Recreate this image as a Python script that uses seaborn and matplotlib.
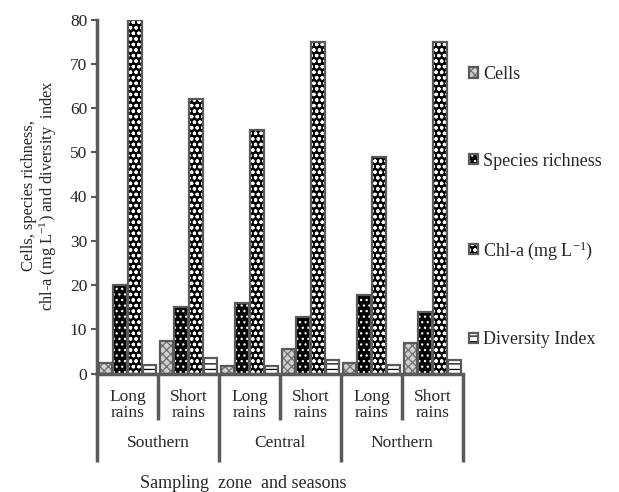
import matplotlib
matplotlib.use("Agg")
import matplotlib.pyplot as plt
import seaborn as sns
import pandas as pd
from matplotlib.patches import Rectangle, Patch
from matplotlib.legend_handler import HandlerTuple

# ---------------- data ----------------
zones = ["Southern", "Central", "Northern"]
seasons = ["Long\nrains", "Short\nrains"]
series = ["Cells", "Species richness", "Chl-a (mg L$^{-1}$)", "Diversity Index"]
cells = [2.4, 7.4, 1.8, 5.5, 2.4, 6.8]
species_richness = [20, 15, 16, 12.8, 17.7, 13.8]
chl_a = [80, 62, 55, 75, 49, 75]
diversity_index = [2.0, 3.6, 1.8, 3.0, 2.0, 3.0]
y_ticks = [0, 10, 20, 30, 40, 50, 60, 70, 80]

categories = [f"{z}|{s}" for z in zones for s in seasons]
values = {series[0]: cells, series[1]: species_richness,
          series[2]: chl_a, series[3]: diversity_index}
rows = []
for name in series:
    for cat, v in zip(categories, values[name]):
        rows.append({"cat": cat, "series": name, "value": v})
df = pd.DataFrame(rows)

# ---------------- style ----------------
sns.set_theme(style="white")
plt.rcParams["font.family"] = ["Liberation Serif", "DejaVu Serif"]
plt.rcParams["mathtext.fontset"] = "custom"
plt.rcParams["mathtext.rm"] = "Liberation Serif"
plt.rcParams["mathtext.it"] = "Liberation Serif:italic"
plt.rcParams["hatch.linewidth"] = 0.9

GRAY = "#5a5a5a"
faces = ["#d0d0d0", "#000000", "#000000", "#ffffff"]
hatch_cols = ["#6e6e6e", "#ffffff", "#ffffff", "#000000"]
hatches = ["xxxx", "...", "ooo", "---"]

fig = plt.figure(figsize=(6.19, 4.92), dpi=100)
ax = fig.add_axes([97 / 619, 1 - 373.5 / 492, (463 - 97) / 619, (373.5 - 19.5) / 492])

sns.barplot(data=df, x="cat", y="value", hue="series", order=categories,
            hue_order=series, palette=faces, saturation=1, width=0.97,
            gap=0.1, legend=False, ax=ax, errorbar=None)

ax.set_xlim(-0.5, len(categories) - 0.5)
ax.set_ylim(0, 80)

for i, cont in enumerate(ax.containers):
    for p in cont.patches:
        p.set_hatch(hatches[i])
        p.set_edgecolor(hatch_cols[i])
        p.set_linewidth(0)
        ax.add_patch(Rectangle(p.get_xy(), p.get_width(), p.get_height(),
                               fill=False, edgecolor=GRAY, lw=1.6, zorder=3))

# axes styling
for s in ["top", "right"]:
    ax.spines[s].set_visible(False)
for s in ["left", "bottom"]:
    ax.spines[s].set_color(GRAY)
    ax.spines[s].set_linewidth(2.5)
ax.set_yticks(y_ticks)
ax.tick_params(axis="y", direction="out", length=4, width=1.5, color=GRAY,
               labelsize=12.5, pad=3, left=True)
ax.set_xticks(range(len(categories)))
ax.set_xticklabels(seasons * len(zones), fontsize=12.5, linespacing=1.0)
ax.tick_params(axis="x", length=0, pad=11)
ax.set_xlabel("")
ax.set_ylabel("")

# multi-level separators
trans = ax.get_xaxis_transform()
for k in range(len(categories) + 1):
    x = -0.5 + k
    ybot = -0.25 if k % 2 == 0 else -0.131
    ax.plot([x, x], [0, ybot], transform=trans, clip_on=False,
            color=GRAY, lw=2.5, solid_capstyle="butt")
for j, z in enumerate(zones):
    ax.text(2 * j + 0.5, -0.196, z, transform=trans, ha="center",
            va="center", fontsize=12.5)

fig.text(243 / 619, 1 - 483 / 492, "Sampling  zone  and seasons",
         ha="center", va="center", fontsize=13)
fig.text(40 / 619, 1 - 196 / 492,
         "Cells, species richness,\nchl-a (mg L$^{-1}$) and diversity  index",
         rotation=90, ha="center", va="center", fontsize=11.8,
         multialignment="center", linespacing=1.1)

# legend
handles = []
for i in range(len(series)):
    h1 = Patch(facecolor=faces[i], hatch=hatches[i], edgecolor=hatch_cols[i], lw=0)
    h2 = Patch(fill=False, edgecolor=GRAY, lw=1.6)
    handles.append((h1, h2))
ax.legend(handles, series, handler_map={tuple: HandlerTuple(ndivide=1, pad=0)},
          loc="upper left", bbox_to_anchor=(469 / 619, 1 - 66 / 492),
          bbox_transform=fig.transFigure, frameon=False, fontsize=13,
          handlelength=0.5, handleheight=0.5, handletextpad=0.3,
          labelspacing=3.85, borderpad=0, borderaxespad=0)

fig.savefig("out.png", dpi=100)
